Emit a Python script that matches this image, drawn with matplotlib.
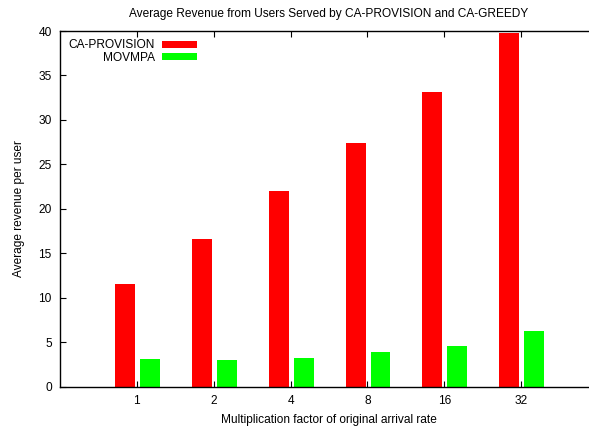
import matplotlib
matplotlib.use("Agg")
import matplotlib.pyplot as plt
import numpy as np

plt.rcParams["font.family"] = ["Liberation Sans", "DejaVu Sans"]
fs = 8.6

# data
factors = ["1", "2", "4", "8", "16", "32"]
ca_provision = [11.55, 16.6, 22.0, 27.4, 33.1, 39.8]
movmpa = [3.15, 3.03, 3.26, 3.93, 4.6, 6.29]

W, H = 589, 428
fig = plt.figure(figsize=(W / 100, H / 100), dpi=100)
# axes run past the right edge of the picture, like the original
ax = fig.add_axes([60 / W, (H - 386.7) / H, (598 - 60) / W, (386.7 - 31) / H])

x = np.arange(1, len(factors) + 1)
bw = 0.26
ax.bar(x - 0.155, ca_provision, bw, color="#ff0000", label="CA-PROVISION")
ax.bar(x + 0.17, movmpa, bw, color="#00ff00", label="MOVMPA")

ax.set_xlim(0, 7)
ax.set_ylim(0, 40)
ax.set_xticks(x)
ax.set_xticklabels(factors)
ax.set_yticks(range(0, 41, 5))
ax.tick_params(direction="in", length=4, width=0.8, top=True, right=True,
               labelsize=fs, pad=6, colors="black")
for s in ax.spines.values():
    s.set_linewidth(1.0)

ax.set_xlabel("Multiplication factor of original arrival rate", fontsize=fs, labelpad=5)
ax.set_ylabel("Average revenue per user", fontsize=fs, labelpad=10)
ax.set_title("Average Revenue from Users Served by CA-PROVISION and CA-GREEDY",
             fontsize=fs, pad=10)

leg = ax.legend(loc="upper left", frameon=False, markerfirst=False,
                handlelength=2.9, handleheight=0.55, handletextpad=0.6,
                labelspacing=0.05, borderaxespad=0.3, fontsize=fs)
for t in leg.get_texts():
    t.set_ha("right")

fig.savefig("out.png", dpi=100)
